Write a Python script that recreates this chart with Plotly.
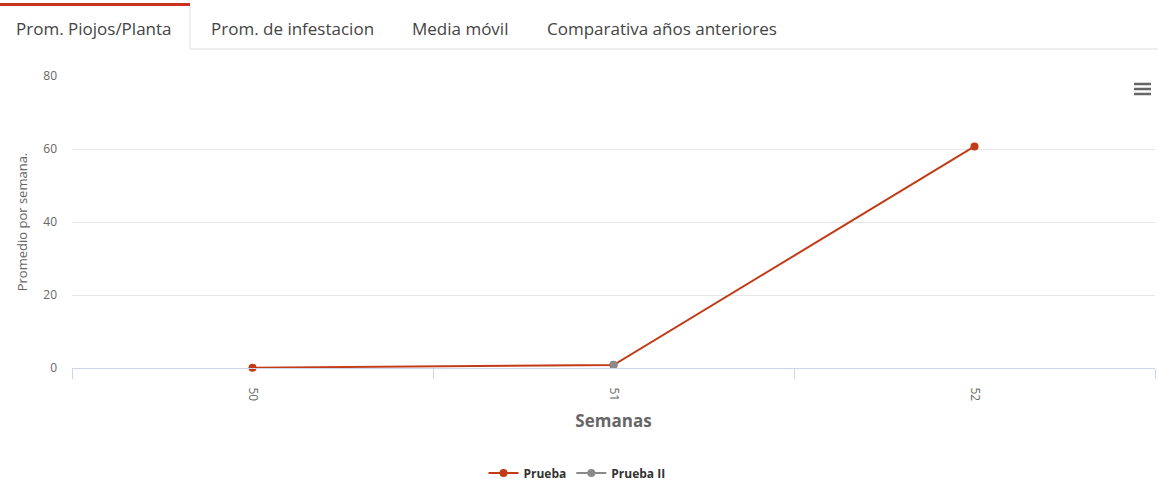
import plotly.graph_objects as go

weeks = ["50", "51", "52"]
prueba = [0.1, 0.8, 60.7]
prueba_ii = [None, 0.9, None]
y_ticks = [0, 20, 40, 60, 80]
tabs = ["Prom. Piojos/Planta", "Prom. de infestacion", "Media móvil", "Comparativa años anteriores"]
tab_centers = [94, 292, 460, 662]

W, H = 1158, 487
L, R, T, B = 72, 1155, 76, 368

def px(x):
    return (x - L) / (R - L)

def py(y):
    return (B - y) / (B - T)

fig = go.Figure()
fig.add_trace(go.Scatter(x=weeks, y=prueba, name="Prueba", mode="lines+markers", cliponaxis=False,
                         line=dict(color="#c23b16", width=2),
                         marker=dict(color="#c23b16", size=8)))
fig.add_trace(go.Scatter(x=weeks, y=prueba_ii, name="Prueba II", mode="lines+markers", cliponaxis=False,
                         line=dict(color="#8a8a8a", width=2),
                         marker=dict(color="#8a8a8a", size=8)))

shapes = []
# tabs
shapes.append(dict(type="line", xref="paper", yref="paper", x0=px(190), x1=px(1158), y0=py(49), y1=py(49),
                   line=dict(color="#dddddd", width=1)))
shapes.append(dict(type="line", xref="paper", yref="paper", x0=px(190), x1=px(190), y0=py(5), y1=py(49),
                   line=dict(color="#dddddd", width=1)))
shapes.append(dict(type="rect", xref="paper", yref="paper", x0=px(0), x1=px(190), y0=py(3), y1=py(6),
                   line=dict(width=0), fillcolor="#c8321e"))
# hamburger menu
for yy in [84, 89, 94]:
    shapes.append(dict(type="line", xref="paper", yref="paper", x0=px(1134), x1=px(1151), y0=py(yy), y1=py(yy),
                       line=dict(color="#666666", width=2.5)))

annotations = []
for t, c in zip(tabs, tab_centers):
    annotations.append(dict(text=t, x=px(c), y=py(28), xref="paper", yref="paper", showarrow=False,
                            xanchor="center", yanchor="middle",
                            font=dict(family="Open Sans", size=17, color="#444444")))

fig.update_layout(
    width=W, height=H,
    margin=dict(l=L, r=W - R, t=T, b=H - B, autoexpand=False),
    plot_bgcolor="white", paper_bgcolor="white",
    shapes=shapes, annotations=annotations,
    showlegend=True,
    legend=dict(orientation="h", x=px(577), xanchor="center", y=py(473), yanchor="middle",
                font=dict(family="Open Sans", size=12, color="#333333", weight="bold")),
    xaxis=dict(type="category", range=[-0.5, 2.5], tickangle=90, tickson="boundaries",
               ticks="outside", ticklen=10, tickcolor="#ccd6eb", showline=True, linecolor="#ccd6eb",
               showgrid=False, zeroline=False, ticklabelstandoff=16, automargin=False,
               tickfont=dict(family="Open Sans", size=12, color="#666666"),
               title=dict(text="<b>Semanas</b>", standoff=14,
                          font=dict(family="Open Sans", size=17, color="#666666"))),
    yaxis=dict(range=[0, 80], tickvals=y_ticks, showgrid=True, gridcolor="#e6e6e6",
               zeroline=False, showline=False, ticks="", ticklabelstandoff=14, automargin=False,
               tickfont=dict(family="Open Sans", size=12, color="#666666"),
               title=dict(text="Promedio por semana.", standoff=12,
                          font=dict(family="Open Sans", size=13, color="#666666"))),
)

fig.write_html("out.html", config={"displayModeBar": False},
               post_script="document.body.style.margin='0';document.body.style.overflow='hidden';")
